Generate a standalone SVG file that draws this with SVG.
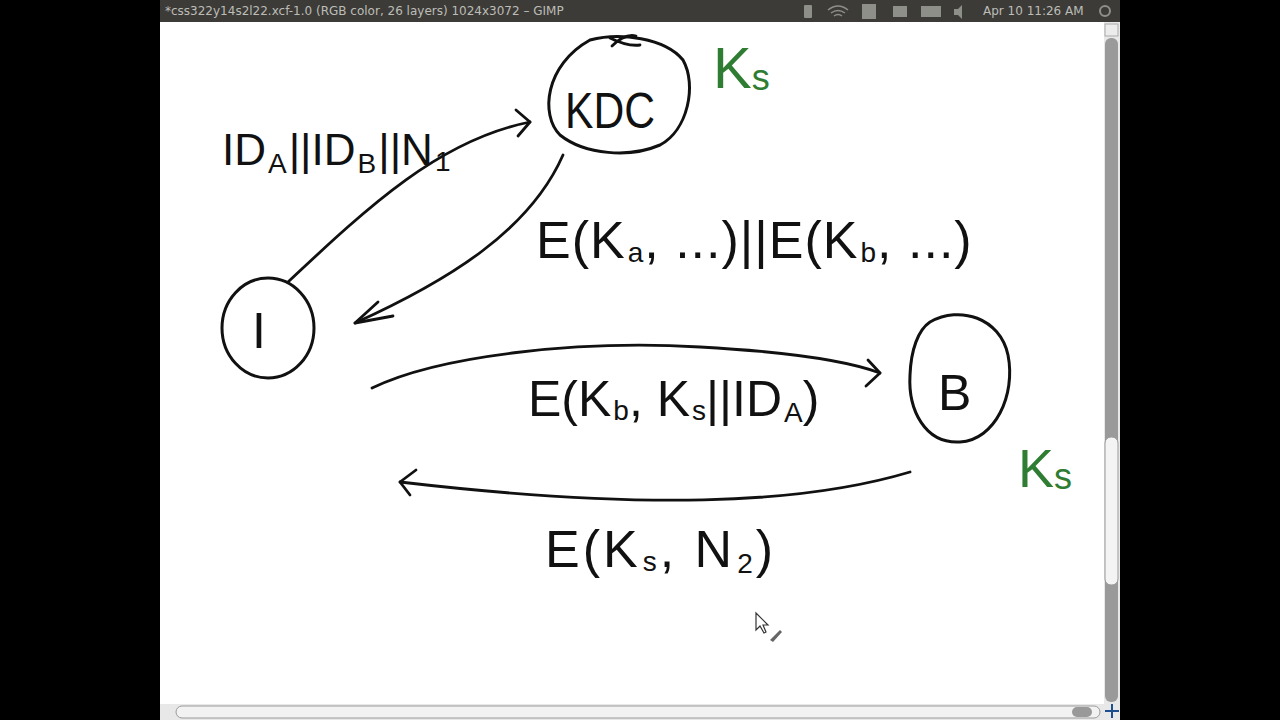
<svg xmlns="http://www.w3.org/2000/svg" width="1280" height="720" viewBox="0 0 1280 720">
<style>
.hand{font-family:"Liberation Sans","DejaVu Sans",sans-serif;fill:#111;}
.lbl{font-size:50px;}
.sub{font-size:28px;}
.green{fill:#2e7d32;}
.ln{fill:none;stroke:#111;stroke-width:2.8;stroke-linecap:round;stroke-linejoin:round;}
.node{fill:none;stroke:#111;stroke-width:3;}
.ui{font-family:"DejaVu Sans","Liberation Sans",sans-serif;font-size:12px;fill:#bdbdb8;}
</style>
<rect x="0" y="0" width="1280" height="720" fill="#000"/>
<rect x="160" y="0" width="960" height="22" fill="#3c3b37"/>
<text class="ui" x="165" y="15">*css322y14s2l22.xcf-1.0 (RGB color, 26 layers) 1024x3072 – GIMP</text>
<g fill="#8f8f8a">
<rect x="804" y="5" width="8" height="13" rx="1"/>
<rect x="862" y="4" width="14" height="15"/>
<rect x="893" y="6" width="14" height="11"/>
<rect x="921" y="6" width="20" height="11"/>
<path d="M954 9 h4 l4 -4 v14 l-4 -4 h-4z"/>
</g>
<path d="M828 10 q10 -8 20 0 M831 13 q7 -5 14 0 M834 16 q4 -3 8 0" fill="none" stroke="#8f8f8a" stroke-width="1.5"/>
<text class="ui" x="983" y="15">Apr 10 11:26 AM</text>
<circle cx="1105" cy="11" r="5" fill="none" stroke="#8f8f8a" stroke-width="2"/>
<rect x="160" y="22" width="960" height="698" fill="#e8e8e8"/>
<rect x="160" y="22" width="944" height="682" fill="#fff"/>
<rect x="1105" y="38" width="13" height="664" rx="6" fill="#9a9a9a"/>
<rect x="1105" y="437" width="13" height="148" rx="6" fill="#f4f4f4" stroke="#999"/>
<rect x="1105" y="24" width="13" height="12" fill="#ececec" stroke="#aaa"/>
<rect x="176" y="706" width="924" height="12" rx="6" fill="#f2f2f2" stroke="#9a9a9a"/>
<rect x="1072" y="707" width="20" height="10" rx="5" fill="#999"/>
<path d="M1112 704 v14 M1105 711 h14" stroke="#1d4f8f" stroke-width="2"/>

<g id="connectors">
<path class="ln" d="M288,282 C370,205 440,140 530,122"/>
<path class="ln" d="M516,110 L530,122 L518,136"/>
<path class="ln" d="M563,155 C530,230 450,280 355,323"/>
<path class="ln" d="M378,302 L355,323 L393,316"/>
<path class="ln" d="M372,388 C440,355 580,340 700,347 C790,352 845,360 880,373"/>
<path class="ln" d="M868,360 L880,373 L866,386"/>
<path class="ln" d="M910,472 C800,505 640,510 400,482"/>
<path class="ln" d="M416,470 L400,482 L410,495"/>
</g>

<g id="node-kdc">
<path class="node" d="M590,40 C620,32 665,38 683,60 C697,85 688,130 660,145 C630,158 585,155 560,135 C540,115 545,65 590,40 Z"/>
<path class="ln" d="M610,38 C622,44 632,46 640,45 M612,46 C620,38 628,34 636,36"/>
<text class="hand lbl" x="565" y="128" textLength="90" lengthAdjust="spacingAndGlyphs">KDC</text>
</g>
<g id="label-ks-kdc">
<text class="hand green" x="713" y="88" font-size="58">K<tspan font-size="36" dy="2">s</tspan></text>
</g>
<g id="node-i">
<ellipse class="node" cx="268" cy="328" rx="46" ry="50"/>
<text class="hand lbl" x="252" y="348">I</text>
</g>
<g id="node-b">
<path class="node" d="M930,322 C960,305 1000,318 1008,355 C1016,395 995,440 960,442 C925,444 908,410 910,375 C911,350 918,330 930,322 Z"/>
<text class="hand lbl" x="938" y="410">B</text>
</g>
<g id="label-ks-b">
<text class="hand green" x="1018" y="487" font-size="54">K<tspan font-size="36" dy="2">s</tspan></text>
</g>

<g id="labels">
<text class="hand" font-size="44" x="222" y="165">ID<tspan class="sub" dx="2" dy="8">A</tspan><tspan dx="2" dy="-8">||ID</tspan><tspan class="sub" dx="2" dy="8">B</tspan><tspan dx="2" dy="-8">||N</tspan><tspan class="sub" dx="2" dy="6">1</tspan></text>
<text class="hand" font-size="52" letter-spacing="1" x="536" y="258">E(K<tspan class="sub" dx="2" dy="4">a</tspan><tspan dy="-4">, ...)||E(K</tspan><tspan class="sub" dx="2" dy="4">b</tspan><tspan dy="-4">, ...)</tspan></text>
<text class="hand" font-size="50" x="528" y="416">E(K<tspan class="sub" dx="2" dy="4">b</tspan><tspan dy="-4">, K</tspan><tspan class="sub" dx="2" dy="4">s</tspan><tspan dy="-4">||ID</tspan><tspan class="sub" dx="2" dy="6">A</tspan><tspan dy="-6">)</tspan></text>
<text class="hand" font-size="52" letter-spacing="3" x="545" y="567">E(K<tspan class="sub" dx="2" dy="4">s</tspan><tspan dy="-4">, N</tspan><tspan class="sub" dx="2" dy="6">2</tspan><tspan dy="-6">)</tspan></text>
</g>

<g id="cursor">
<path d="M756,613 L756,630 L760,626 L764,633 L766,632 L763,625 L768,625 Z" fill="#fff" stroke="#333" stroke-width="1.2"/>
<path d="M770,640 L780,630 L782,632 L773,642 Z" fill="#666"/>
</g>
</svg>
